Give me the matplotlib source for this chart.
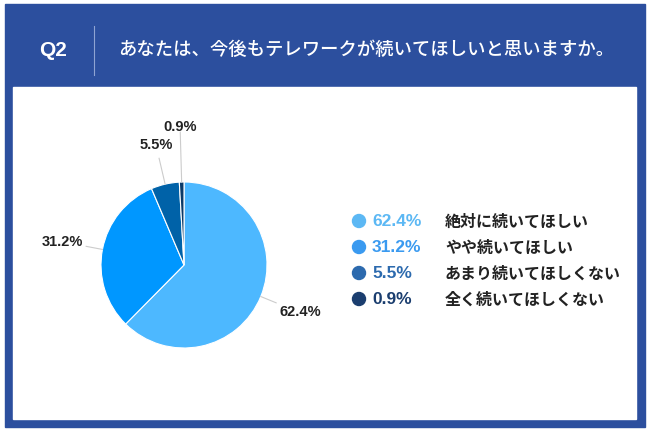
import matplotlib.pyplot as plt
from matplotlib.patches import Rectangle, Circle
import numpy as np

plt.rcParams['font.family'] = ['Noto Sans CJK JP', 'DejaVu Sans']

question = "Q2"
title = "あなたは、今後もテレワークが続いてほしいと思いますか。"
answers = ["絶対に続いてほしい", "やや続いてほしい", "あまり続いてほしくない", "全く続いてほしくない"]
shares = [62.4, 31.2, 5.5, 0.9]
pie_colors = ["#4db8ff", "#0097ff", "#0062a8", "#0b3a68"]
legend_colors = ["#5cb8f4", "#3a9af0", "#2c6aae", "#1b3e6f"]

W, H = 650, 435
fig = plt.figure(figsize=(W / 100, H / 100), dpi=100)
num_font = ["Liberation Sans", "DejaVu Sans"]

# background frame in pixel coords
bg = fig.add_axes([0, 0, 1, 1])
bg.set_xlim(0, W)
bg.set_ylim(H, 0)
bg.axis("off")
bg.add_patch(Rectangle((5, 5), 640, 423, color="#2c4f9e", zorder=0))
bg.add_patch(Rectangle((13, 88), 623, 332, color="white", zorder=1))
bg.plot([94, 94], [27, 76], color="#8fa4d3", lw=0.8, zorder=2)
bg.text(53.5, 51, question, color="white", fontsize=15, fontweight="bold",
        ha="center", va="center", family=num_font)
bg.text(118, 50, title, color="white", fontsize=13.2, fontweight="medium",
        ha="left", va="center")

# legend
rows = [222, 248, 274, 300]
for y, s, a, c in zip(rows, shares, answers, legend_colors):
    bg.add_patch(Circle((359, y), 6.5, color=c, zorder=3))
    bg.text(372, y, f"{s}%", color=c, fontsize=12.5, fontweight="bold",
            ha="left", va="center", family=num_font)
    bg.text(445, y, a, color="#222222", fontsize=11.5, fontweight="bold",
            ha="left", va="center")

# pie
cx, cy, r = 184, 266, 83
pax = fig.add_axes([(cx - r) / W, (H - cy - r) / H, 2 * r / W, 2 * r / H])
wedges, _ = pax.pie(shares, colors=pie_colors, startangle=90, counterclock=False,
                    wedgeprops=dict(linewidth=0.8, edgecolor="white"))
pax.set_xlim(-1, 1)
pax.set_ylim(-1, 1)
pax.set_aspect("equal")
pax.axis("off")

# outside labels with thin leader lines (text positions in pixel coords)
label_pos = [(279, 312, "left"), (83, 242, "right"), (156, 145, "center"), (180, 127, "center")]
line_len = [1.2, 1.2, 1.32, 1.6]
for w, s, (tx, ty, ha), ll in zip(wedges, shares, label_pos, line_len):
    ang = np.deg2rad((w.theta1 + w.theta2) / 2)
    p0 = (np.cos(ang) * 1.0, np.sin(ang) * 1.0)
    p1 = (np.cos(ang) * ll, np.sin(ang) * ll)
    pax.plot([p0[0], p1[0]], [p0[1], p1[1]], color="#cccccc", lw=0.8, clip_on=False)
    bg.text(tx, ty, f"{s}%", fontsize=10.5, fontweight="bold", color="#222222",
            ha=ha, va="center", family=num_font, zorder=4)

fig.savefig("out.png", dpi=100)
